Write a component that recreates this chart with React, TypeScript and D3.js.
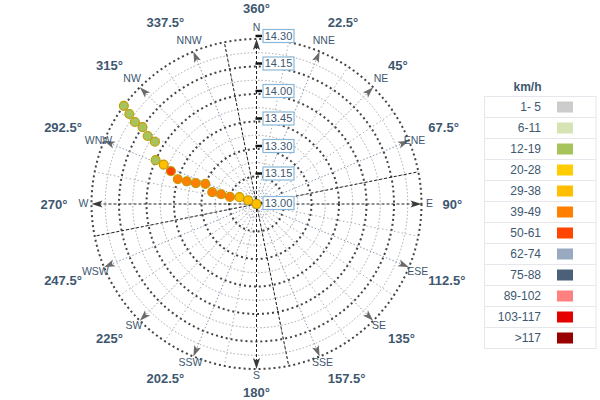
import React from "react";
import * as d3 from "d3";

// ---- data ----
const minutes = [0, 5, 10, 15, 20, 25, 30, 35, 40, 45, 50, 55, 60, 65, 70, 75, 80, 85, 90];
const directions = [290, 294, 292, 285, 285.5, 285, 291.5, 289, 288, 287.5, 291, 293, 293.5, 301.5, 302, 304, 304, 305.3, 306.5];
const speeds = [33, 32, 34, 42, 44, 43, 41, 45, 44, 40, 52, 30, 16, 15, 14, 15, 16, 14, 15];

const radialTicks = [0, 15, 30, 45, 60, 75, 90];
const radialTickLabels = ["13.00", "13.15", "13.30", "13.45", "14.00", "14.15", "14.30"];
const minorTicks = [7.5, 22.5, 37.5, 52.5, 67.5, 82.5];

const compassNames = ["N", "NNE", "NE", "ENE", "E", "ESE", "SE", "SSE", "S", "SSW", "SW", "WSW", "W", "WNW", "NW", "NNW"];
const degreeLabels = ["360°", "22.5°", "45°", "67.5°", "90°", "112.5°", "135°", "157.5°", "180°", "202.5°", "225°", "247.5°", "270°", "292.5°", "315°", "337.5°"];

const speedBins = ["1- 5", "6-11", "12-19", "20-28", "29-38", "39-49", "50-61", "62-74", "75-88", "89-102", "103-117", ">117"];
const speedThresholds = [6, 12, 20, 29, 39, 50, 62, 75, 89, 103, 118];
const speedColors = ["#CCCCCC", "#D6E3B5", "#A6C35C", "#FFCC00", "#FFBF00", "#FF8000", "#FF4500", "#99AAC0", "#4D6079", "#FF8080", "#E60000", "#990000"];

// ---- layout ----
const W = 600, H = 400;
const cx = 256.5, cy = 204, R = 165;
const FONT = "'Liberation Sans', Arial, sans-serif";
const TEXT = "#3E576F";

const rScale = d3.scaleLinear().domain([0, 90]).range([0, R]);
const colorScale = d3.scaleThreshold<number, string>().domain(speedThresholds).range(speedColors);

const rad = (deg: number) => (deg * Math.PI) / 180;
const px = (deg: number, r: number) => cx + r * Math.sin(rad(deg));
const py = (deg: number, r: number) => cy - r * Math.cos(rad(deg));

const dirAngles = d3.range(16).map((i) => i * 22.5);
const oddAngles = d3.range(16).map((i) => 11.25 + i * 22.5);
const blackAngles = [0, 90, 180, 270, 348.75, 78.75, 168.75, 258.75];

export default function App() {
  return (
    <svg width={W} height={H} style={{ position: "absolute", left: 0, top: 0, background: "#fff" }} fontFamily={FONT}>
      {/* minor circles */}
      {minorTicks.map((t) => (
        <circle key={"mi" + t} cx={cx} cy={cy} r={rScale(t)} fill="none" stroke="#a8a8a8" strokeWidth={1} strokeDasharray="1.5,2" />
      ))}
      {/* grey radial lines */}
      {oddAngles.map((a) => (
        <line key={"g" + a} x1={cx} y1={cy} x2={px(a, R)} y2={py(a, R)} stroke="#b0b0b0" strokeWidth={1} strokeDasharray="1.5,2.5" />
      ))}
      {/* major circles */}
      {radialTicks.slice(1).map((t) => (
        <circle key={"ma" + t} cx={cx} cy={cy} r={rScale(t)} fill="none" stroke="#444" strokeWidth={2} strokeDasharray="2,3" />
      ))}
      {/* blue-grey direction lines */}
      {dirAngles.filter((a) => a % 90 !== 0).map((a) => (
        <line key={"b" + a} x1={cx} y1={cy} x2={px(a, R - 6)} y2={py(a, R - 6)} stroke="#8797b0" strokeWidth={1} strokeDasharray="1.5,2" />
      ))}
      {/* black dashed lines */}
      {blackAngles.map((a) => (
        <line key={"k" + a} x1={cx} y1={cy} x2={px(a, a % 90 === 0 ? R - 6 : R)} y2={py(a, a % 90 === 0 ? R - 6 : R)} stroke="#222" strokeWidth={1} strokeDasharray="3,2" />
      ))}
      {/* arrows */}
      {dirAngles.map((a) => (
        <path
          key={"ar" + a}
          d="M0,0 L-3.6,11 L0,8.5 L3.6,11 Z"
          transform={`translate(${px(a, R)},${py(a, R)}) rotate(${a})`}
          fill={a % 90 === 0 ? "#3a3a3a" : "#6b6b6b"}
        />
      ))}
      {/* radial axis ticks and labels */}
      {radialTicks.map((t, i) => {
        const y = t === 0 ? cy - 1 : cy - rScale(t) - 3;
        return (
          <g key={"rt" + t}>
            <line x1={cx - 1} x2={cx + 5.5} y1={y} y2={y} stroke="#111" strokeWidth={2.5} />
            <rect x={cx + 6.5} y={y - 6.5} width={31} height={13} fill="#fff" stroke="#8bb8d8" strokeWidth={1.2} />
            <text x={cx + 22} y={y} dy="0.36em" textAnchor="middle" fontSize={11} fill={TEXT}>
              {radialTickLabels[i]}
            </text>
          </g>
        );
      })}
      {/* data points */}
      {minutes.map((m, i) => (
        <circle
          key={"p" + m}
          cx={px(directions[i], rScale(m))}
          cy={py(directions[i], rScale(m))}
          r={4.5}
          fill={colorScale(speeds[i])}
          stroke="#C49A00"
          strokeWidth={1.1}
        />
      ))}
      {/* compass labels */}
      {dirAngles.map((a, i) => {
        const c = Math.cos(rad(a));
        const s = Math.sin(rad(a));
        let r = 176 - (c < 0 ? 4 * -c : 0);
        if (Math.abs(s) > 0.95) r = 173;
        else if (Math.abs(s) > 0.9 && c > 0) r = 171;
        const yOff = Math.abs(s) > 0.9 && Math.abs(s) < 0.95 ? (c > 0 ? 2 : 1) : -1;
        return (
          <text key={"cn" + a} x={px(a, r)} y={py(a, r) + yOff} dy="0.35em" textAnchor="middle" fontSize={10.5} fill={TEXT}>
            {compassNames[i]}
          </text>
        );
      })}
      {/* degree labels */}
      {dirAngles.map((a, i) => {
        const s = Math.sin(rad(a));
        const c = Math.cos(rad(a));
        let rY = 196 - (c < 0 ? 8 * -c : 0);
        if (Math.abs(c) > 0.3 && Math.abs(c) < 0.5) rY = 200;
        const y = cy - rY * c;
        let anchor = "middle";
        let x = cx + 196 * s;
        if (s > 0.1) {
          anchor = "start";
          x = cx + 186 * s;
        } else if (s < -0.1) {
          anchor = "end";
          x = cx + 189 * s;
        }
        return (
          <text key={"dl" + a} x={x} y={y} dy="0.35em" textAnchor={anchor} fontSize={13} fontWeight="bold" fill={TEXT}>
            {degreeLabels[i]}
          </text>
        );
      })}
      {/* legend */}
      <text x={527.5} y={87} dy="0.35em" textAnchor="middle" fontSize={12} fontWeight="bold" fill={TEXT}>
        km/h
      </text>
      <rect x={484.5} y={96.5} width={111.5} height={252} fill="#fff" stroke="#e6e6ec" strokeWidth={1} />
      {speedBins.map((b, i) => {
        const y0 = 96.5 + i * 21;
        return (
          <g key={"lg" + b}>
            {i > 0 && <line x1={484.5} x2={596} y1={y0} y2={y0} stroke="#e6e6ec" strokeWidth={1} />}
            <text x={541} y={y0 + 10.5} dy="0.36em" textAnchor="end" fontSize={12} fill={TEXT}>
              {b}
            </text>
            <rect x={557} y={y0 + 5} width={16} height={11} fill={speedColors[i]} />
          </g>
        );
      })}
    </svg>
  );
}
